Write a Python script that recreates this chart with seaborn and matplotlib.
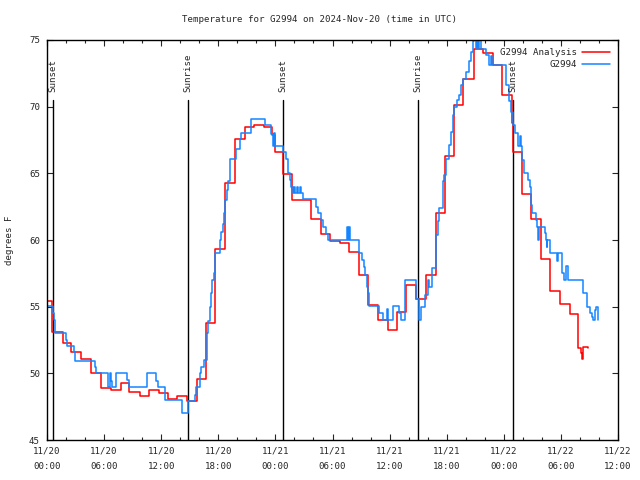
import matplotlib
matplotlib.use("Agg")
import matplotlib.pyplot as plt
import seaborn as sns
import pandas as pd
from matplotlib.ticker import MultipleLocator, FixedLocator

# ---------------- data ----------------
title = "Temperature for G2994 on 2024-Nov-20 (time in UTC)"
y_label = "degrees F"
series_names = ["G2994 Analysis", "G2994"]
series_colors = ["#FF0000", "#1585FF"]

# hours since 2024-11-20 00:00 UTC
red_hours = [0, 0.56, 1.68, 2.49, 3.60, 4.58, 5.63, 6.75, 7.73, 8.60,
             9.72, 10.70, 11.75, 12.69, 13.67, 14.76, 15.77, 16.75, 17.70, 18.67,
             19.72, 20.77, 21.75, 22.76, 23.6, 24.0, 24.79, 25.73, 27.77, 28.74,
             29.69, 30.74, 31.78, 32.83, 33.78, 34.83, 35.80, 36.79, 37.76, 38.78,
             39.83, 40.88, 41.82, 42.72, 43.74, 44.82, 45.77, 46.82, 47.86, 48.81,
             48.95, 49.90, 50.91, 51.89, 52.84, 53.89, 54.97, 55.84, 56.1, 56.25,
             56.35, 56.8]
red_temps = [55.4, 53.1, 52.25, 51.6, 51.1, 50.0, 48.9, 48.75, 49.25, 48.6,
             48.3, 48.75, 48.5, 48.1, 48.3, 47.9, 49.6, 53.8, 59.3, 64.25,
             67.55, 68.45, 68.6, 68.5, 67.9, 66.6, 64.95, 63.0, 61.55, 60.45,
             59.9, 59.75, 59.1, 57.4, 55.1, 54.0, 53.25, 54.6, 56.6, 55.55,
             57.4, 62.0, 66.3, 70.1, 72.1, 74.3, 74.0, 73.1, 70.9, 68.8,
             66.6, 63.45, 61.55, 58.6, 56.2, 55.2, 54.45, 51.9, 51.5, 51.1,
             52.0, 51.9]

blue_hours = [0, 0.63, 0.70, 0.80, 0.87, 2.02, 2.13, 2.83, 2.97, 5.0,
              5.1, 6.4, 6.58, 6.68, 6.85, 7.2, 8.42, 8.6, 10.52, 11.47,
              11.64, 12.45, 14.19, 14.85, 15.6, 15.7, 16.05, 16.23, 16.47, 16.82,
              16.92, 17.1, 17.2, 17.34, 17.55, 17.7, 18.15, 18.28, 18.49, 18.6,
              18.75, 18.96, 19.06, 19.2, 19.9, 20.25, 20.42, 21.47, 22.94, 23.5,
              23.74, 23.86, 23.97, 24.83, 25.07, 25.31, 25.49, 25.65, 25.84, 26.0,
              26.1, 26.3, 26.4, 26.6, 26.7, 26.89, 28.22, 28.46, 28.82, 28.98,
              29.34, 29.5, 31.5, 31.63, 31.73, 31.86, 32.83, 33.12, 33.29, 33.46,
              33.6, 33.7, 33.81, 34.93, 35.28, 35.77, 35.87, 36.4, 37.03, 37.21,
              37.66, 38.78, 39.05, 39.3, 39.76, 40.0, 40.17, 40.46, 40.88, 41.05,
              41.15, 41.57, 41.75, 41.93, 42.28, 42.45, 42.62, 42.8, 43.11, 43.32,
              43.5, 43.67, 44.03, 44.38, 44.55, 44.73, 44.85, 45.08, 45.22, 45.33,
              45.43, 45.6, 46.13, 46.48, 46.69, 46.8, 48.22, 48.57, 48.75, 48.92,
              49.2, 49.44, 49.69, 49.77, 49.96, 50.14, 50.59, 50.74, 50.84, 51.01,
              51.37, 51.54, 51.6, 51.66, 52.3, 52.4, 52.5, 52.58, 52.84, 53.64,
              53.74, 54.1, 54.34, 54.51, 54.79, 56.36, 56.78, 57.03, 57.24, 57.4,
              57.59, 57.73, 57.87, 57.95]
blue_temps = [55.05, 54.5, 54.0, 53.45, 53.0, 52.5, 52.05, 51.6, 50.95, 50.45,
              50.0, 49.0, 50.0, 49.4, 48.95, 50.0, 49.5, 48.95, 50.0, 49.45,
              48.95, 48.0, 47.0, 47.9, 48.4, 48.95, 50.0, 50.45, 51.0, 53.0,
              53.9, 55.0, 56.0, 57.0, 57.5, 59.0, 60.0, 60.6, 61.2, 62.0,
              63.0, 63.75, 64.45, 66.05, 66.8, 67.55, 68.0, 69.05, 68.6, 67.95,
              67.05, 68.0, 67.05, 66.6, 66.05, 65.0, 64.5, 64.0, 63.5, 64.0,
              63.5, 64.0, 63.5, 64.0, 63.5, 63.05, 62.5, 62.0, 61.5, 61.0,
              60.45, 60.0, 61.0, 60.0, 61.0, 60.0, 59.0, 58.5, 58.0, 57.4,
              56.5, 56.0, 55.05, 54.5, 54.0, 54.8, 54.0, 55.05, 54.5, 54.0,
              57.0, 55.6, 54.0, 55.0, 55.9, 57.0, 56.5, 57.9, 60.4, 61.4,
              62.4, 64.4, 64.9, 66.1, 67.1, 68.1, 69.4, 70.0, 70.5, 70.9,
              71.6, 72.1, 72.6, 73.4, 74.1, 74.9, 75.5, 74.4, 75.5, 74.4,
              75.5, 74.3, 73.9, 73.1, 73.8, 73.1, 71.6, 70.4, 69.6, 68.6,
              68.0, 67.05, 67.8, 67.05, 66.0, 65.0, 64.5, 64.0, 62.6, 62.0,
              61.5, 61.0, 60.0, 61.0, 60.5, 60.0, 59.5, 60.0, 59.0, 58.4,
              59.0, 57.5, 57.0, 58.05, 57.0, 56.0, 55.0, 54.5, 54.25, 54.0,
              54.75, 55.0, 54.0, 54.0]

sun_hours = [0.63, 14.79, 24.76, 38.98, 48.99]
sun_labels = ["Sunset", "Sunrise", "Sunset", "Sunrise", "Sunset"]

x_tick_hours = [0, 6, 12, 18, 24, 30, 36, 42, 48, 54, 60]
x_tick_labels = ["11/20\n00:00", "11/20\n06:00", "11/20\n12:00", "11/20\n18:00",
                 "11/21\n00:00", "11/21\n06:00", "11/21\n12:00", "11/21\n18:00",
                 "11/22\n00:00", "11/22\n06:00", "11/22\n12:00"]
y_ticks = [45, 50, 55, 60, 65, 70, 75]

# ---------------- plot ----------------
sns.set_style("ticks")
FONT = "DejaVu Sans Mono"
plt.rcParams["font.family"] = [FONT, "DejaVu Sans"]
FS = 6.6

df = pd.concat([
    pd.DataFrame({"hour": red_hours, "temp": red_temps, "series": series_names[0]}),
    pd.DataFrame({"hour": blue_hours, "temp": blue_temps, "series": series_names[1]}),
])

fig = plt.figure(figsize=(6.4, 4.8), dpi=100)
ax = fig.add_axes([47 / 640, 1 - 440 / 480, 571 / 640, 400 / 480])

sns.lineplot(data=df, x="hour", y="temp", hue="series",
             palette=dict(zip(series_names, series_colors)),
             hue_order=series_names, estimator=None, sort=False,
             drawstyle="steps-post", linewidth=1.1, ax=ax, legend=False)

for h, lab in zip(sun_hours, sun_labels):
    ax.axvline(h, ymin=0, ymax=0.85, color="black", linewidth=1.0, zorder=1)
    ax.text(h, 0.87, lab, transform=ax.get_xaxis_transform(), rotation=90,
            ha="center", va="bottom", fontsize=FS, family=FONT)

ax.set_xlim(0, 60)
ax.set_ylim(45, 75)
ax.xaxis.set_major_locator(FixedLocator(x_tick_hours))
ax.set_xticklabels(x_tick_labels)
ax.xaxis.set_minor_locator(MultipleLocator(2))
ax.set_yticks(y_ticks)
ax.set_yticklabels([str(v) for v in y_ticks])

ax.tick_params(axis="both", which="major", direction="in", length=4, width=0.8,
               top=True, right=True, labelsize=FS, pad=5)
ax.tick_params(axis="x", which="minor", direction="in", length=2.5, width=0.8,
               top=True, bottom=True)
ax.tick_params(axis="y", which="minor", left=False, right=False)
for lbl in ax.get_xticklabels():
    lbl.set_linespacing(1.85)
    lbl.set_family(FONT)
for lbl in ax.get_yticklabels():
    lbl.set_family(FONT)

for sp in ax.spines.values():
    sp.set_visible(True)
    sp.set_color("black")
    sp.set_linewidth(1.0)

ax.set_xlabel("")
ax.set_ylabel(y_label, fontsize=FS, family=FONT)
ax.yaxis.set_label_coords(-0.058, 0.5)

fig.text(0.5, 1 - 20 / 480, title, ha="center", va="center", fontsize=FS, family=FONT)

handles = ax.get_lines()[:2]
leg = ax.legend(handles, series_names, loc="upper right", frameon=False,
                markerfirst=False, handlelength=3.0, handletextpad=0.6,
                borderaxespad=0.5, labelspacing=0.35,
                prop={"family": FONT, "size": FS})

fig.savefig("out.png", dpi=100)
